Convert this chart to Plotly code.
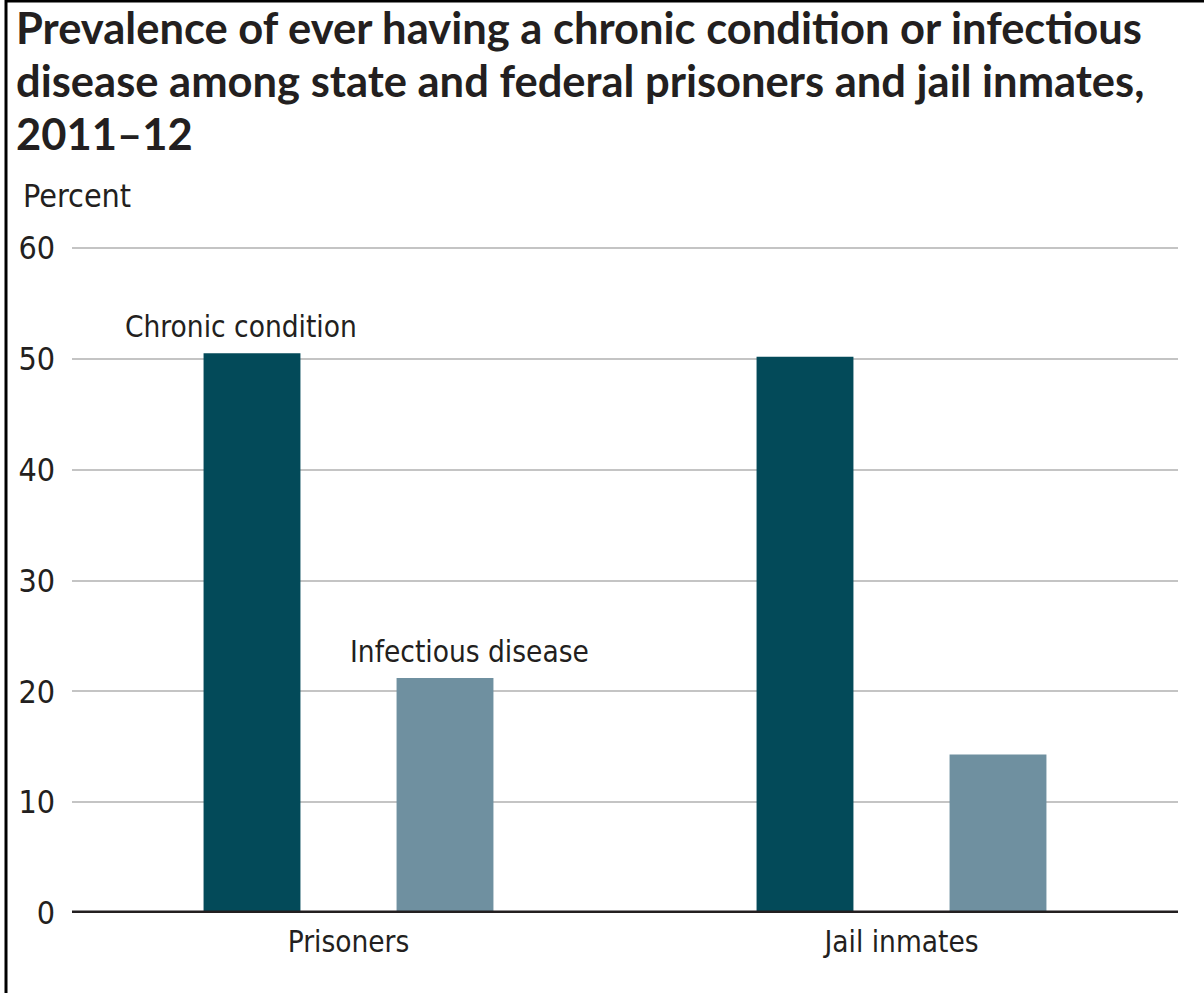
import plotly.graph_objects as go

categories = ["Prisoners", "Jail inmates"]
chronic = [50.5, 50.2]
infectious = [21.2, 14.3]
series_names = ["Chronic condition", "Infectious disease"]
y_ticks = [0, 10, 20, 30, 40, 50, 60]
title_lines = [
    "Prevalence of ever having a chronic condition or infectious",
    "disease among state and federal prisoners and jail inmates,",
    "2011–12",
]

W, H = 1204, 993
L, R, T, B = 72, 26, 244, 80
TXT = "#231f20"
FONT = "DejaVu Sans Condensed, sans-serif"
TFONT = "Lato, sans-serif"
TSIZE = 43.5
DARK = "#034a59"
LIGHT = "#6f90a0"
BARGAP, GROUPGAP = 0.302, 0.498
PX_PER_UNIT = 11.083
YMAX = (H - B - T) / PX_PER_UNIT

fig = go.Figure()
fig.add_trace(go.Bar(x=categories, y=chronic, name=series_names[0], marker_color=DARK, marker_line_width=0))
fig.add_trace(go.Bar(x=categories, y=infectious, name=series_names[1], marker_color=LIGHT, marker_line_width=0))

slot = (1 - BARGAP) / 2
fig.add_annotation(x=0 - slot / 2, y=chronic[0], text=series_names[0], showarrow=False,
                   yanchor="bottom", xanchor="center", xshift=-11, yshift=7,
                   font=dict(family=FONT, size=29.5, color=TXT))
fig.add_annotation(x=0 + slot / 2, y=infectious[0], text=series_names[1], showarrow=False,
                   yanchor="bottom", xanchor="center", xshift=24, yshift=7,
                   font=dict(family=FONT, size=29.5, color=TXT))

pw, ph = W - L - R, H - T - B
def px(x):
    return (x - L) / pw
def py(y):
    return (H - B - y) / ph

# frame (top and left)
fig.add_shape(type="line", xref="paper", yref="paper", x0=px(6), x1=px(W + 5), y0=py(1), y1=py(1),
              line=dict(color="black", width=3))
fig.add_shape(type="line", xref="paper", yref="paper", x0=px(6), x1=px(6), y0=py(0), y1=py(H + 5),
              line=dict(color="black", width=3))
# baseline
fig.add_shape(type="line", xref="paper", yref="y", x0=0, x1=1, y0=0, y1=0,
              line=dict(color=TXT, width=5), layer="above")

# title lines (baselines at ~45, 97, 151 px)
for i, line in enumerate(title_lines):
    base = 45 + i * 53
    fig.add_annotation(xref="paper", yref="paper", x=px(14), y=py(base - 0.36 * TSIZE - 2), text=line,
                       showarrow=False, xanchor="left", yanchor="middle",
                       font=dict(family=TFONT, size=TSIZE, color=TXT, weight="bold"))

fig.add_annotation(xref="paper", yref="paper", x=px(21), y=py(196), text="Percent", showarrow=False,
                   xanchor="left", yanchor="middle", font=dict(family=FONT, size=32, color=TXT))

fig.update_layout(
    width=W, height=H,
    margin=dict(l=L, r=R, t=T, b=B, pad=0),
    paper_bgcolor="white", plot_bgcolor="white",
    barmode="group", bargap=BARGAP, bargroupgap=GROUPGAP,
    showlegend=False,
    xaxis=dict(range=[-0.5, 1.5], showgrid=False, showline=False, ticks="", zeroline=False,
               ticklabelstandoff=8,
               tickfont=dict(family=FONT, size=29.5, color=TXT)),
    yaxis=dict(range=[0, YMAX], tickvals=y_ticks, showgrid=True, gridcolor="#c4c4c4", gridwidth=2,
               zeroline=False, showline=False, ticks="", ticklabelstandoff=16,
               tickfont=dict(family=FONT, size=32, color=TXT)),
)

fig.write_html("out.html", config={"displayModeBar": False},
               post_script="document.body.style.margin='0px';")
